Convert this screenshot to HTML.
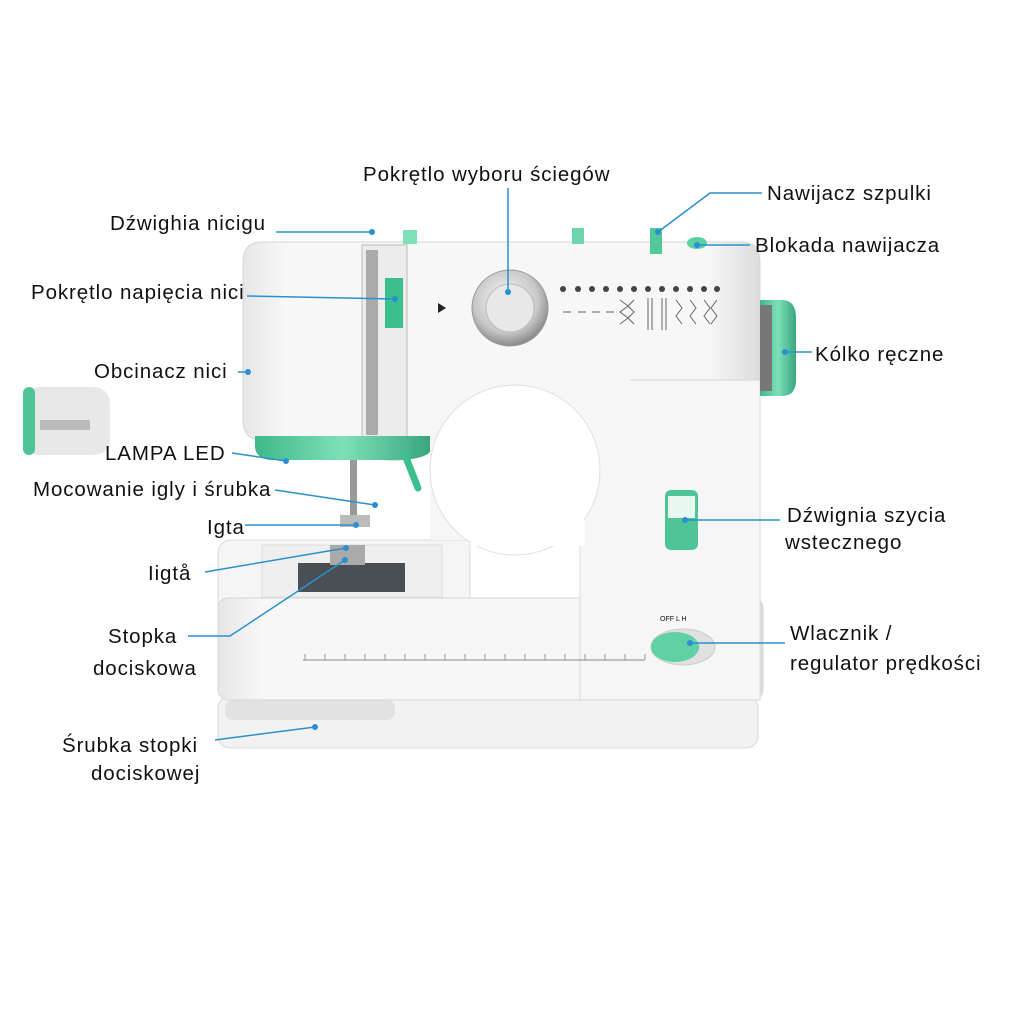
<!DOCTYPE html>
<html><head><meta charset="utf-8"><style>
html,body{margin:0;padding:0;background:#fff;}
svg{display:block}
text{font-family:"Liberation Sans",sans-serif;font-size:20.5px;letter-spacing:0.9px;fill:#111;}
</style></head><body>
<svg width="1024" height="1024" viewBox="0 0 1024 1024" xmlns="http://www.w3.org/2000/svg">
<defs>
<linearGradient id="body" x1="0" y1="0" x2="1" y2="0">
<stop offset="0" stop-color="#e6e6e6"/><stop offset="0.08" stop-color="#f7f7f7"/><stop offset="0.9" stop-color="#f7f7f7"/><stop offset="1" stop-color="#dcdcdc"/></linearGradient>
<radialGradient id="dial" cx="0.45" cy="0.4" r="0.6"><stop offset="0" stop-color="#fafafa"/><stop offset="0.7" stop-color="#c8c8c8"/><stop offset="1" stop-color="#8a8a8a"/></radialGradient>
<linearGradient id="green" x1="0" y1="0" x2="1" y2="0"><stop offset="0" stop-color="#3fb88a"/><stop offset="0.5" stop-color="#7de0b8"/><stop offset="1" stop-color="#3aa67e"/></linearGradient>
</defs>
<!-- bottom plate -->
<rect x="218" y="696" width="540" height="52" rx="12" fill="#f2f2f2" stroke="#d8d8d8"/>
<rect x="225" y="700" width="170" height="20" rx="8" fill="#e2e2e2"/>
<!-- base -->
<path d="M232 540 H470 V700 H232 Q218 700 218 686 V556 Q218 540 232 540Z" fill="#f5f5f5" stroke="#dadada"/>
<rect x="218" y="598" width="545" height="102" rx="10" fill="url(#body)" stroke="#d6d6d6"/>
<!-- right column -->
<rect x="580" y="350" width="180" height="350" fill="#f6f6f6" stroke="#dadada"/>
<!-- arm -->
<path d="M262 242 H742 Q760 242 760 262 V380 H440 V440 H262 Q243 440 243 420 V262 Q243 242 262 242Z" fill="url(#body)" stroke="#d6d6d6"/>
<rect x="430" y="370" width="200" height="170" fill="#f6f6f6"/>
<!-- opening -->
<rect x="470" y="470" width="115" height="75" fill="#fff"/>
<circle cx="515" cy="470" r="85" fill="#ffffff" stroke="#e0e0e0"/>
<rect x="471" y="470" width="113" height="76" fill="#fff"/>
<!-- needle bed -->
<rect x="262" y="545" width="180" height="52" fill="#efefef" stroke="#ddd"/>
<rect x="298" y="563" width="107" height="29" fill="#4a4f55"/>
<!-- head front panel -->
<rect x="362" y="245" width="45" height="195" fill="#ececec" stroke="#bbb"/>
<rect x="366" y="250" width="12" height="185" fill="#aaa"/>
<rect x="385" y="278" width="18" height="50" fill="#3cbf8c"/>
<!-- lamp band -->
<path d="M255 436 H430 V452 Q420 462 380 460 H270 Q255 458 255 446Z" fill="url(#green)"/>
<!-- needle bar -->
<rect x="350" y="460" width="7" height="65" fill="#999"/>
<rect x="340" y="515" width="30" height="12" fill="#bbb"/>
<rect x="330" y="545" width="35" height="20" fill="#aaa"/>
<path d="M405 455 L418 488" stroke="#3cbf8c" stroke-width="7" stroke-linecap="round"/>
<!-- top parts -->
<rect x="403" y="230" width="14" height="14" fill="#7de0b8"/>
<rect x="650" y="228" width="12" height="26" fill="#4fc99a"/>
<ellipse cx="697" cy="243" rx="10" ry="6" fill="#5bd0a0"/>
<rect x="572" y="228" width="12" height="16" fill="#6ed5ac"/>
<!-- dial -->
<circle cx="510" cy="308" r="38" fill="url(#dial)" stroke="#999"/>
<circle cx="510" cy="308" r="24" fill="#e8e8e8" stroke="#bbb"/>
<polygon points="438,303 438,313 446,308" fill="#222"/>
<!-- stitch symbols -->
<g fill="#444">
<circle cx="563" cy="289" r="3"/><circle cx="578" cy="289" r="3"/><circle cx="592" cy="289" r="3"/><circle cx="606" cy="289" r="3"/><circle cx="620" cy="289" r="3"/><circle cx="634" cy="289" r="3"/><circle cx="648" cy="289" r="3"/><circle cx="662" cy="289" r="3"/><circle cx="676" cy="289" r="3"/><circle cx="690" cy="289" r="3"/><circle cx="704" cy="289" r="3"/><circle cx="717" cy="289" r="3"/>
</g>
<g stroke="#666" fill="none" stroke-width="1">
<path d="M620 300 l8 6 -8 6 8 6 -8 6"/><path d="M634 300 l-6 6 6 6 -6 6 6 6"/><path d="M648 298 v32 M652 298 v32"/><path d="M662 298 v32 M666 298 v32"/><path d="M676 300 l6 8 -6 8 6 8"/><path d="M690 300 l6 8 -6 8 6 8"/><path d="M704 300 l6 8 -6 8 6 8"/><path d="M717 300 l-6 8 6 8 -6 8"/>
<path d="M563 312 h8 M578 312 h8 M592 312 h8 M606 312 h8"/>
</g>
<!-- handwheel -->
<path d="M760 300 H782 Q796 300 796 318 V380 Q796 396 782 396 H760Z" fill="url(#green)"/>
<rect x="760" y="305" width="12" height="86" fill="#777"/>
<!-- reverse lever -->
<rect x="665" y="490" width="33" height="60" rx="6" fill="#4ec497"/>
<rect x="668" y="496" width="27" height="22" fill="#e9f7f1"/>
<!-- power switch -->
<ellipse cx="683" cy="647" rx="32" ry="18" fill="#e0e0e0" stroke="#ccc"/>
<ellipse cx="675" cy="647" rx="24" ry="15" fill="#5fd1a4"/>
<text x="660" y="621" style="font-size:7px;letter-spacing:0">OFF   L   H</text>
<!-- ruler -->
<line x1="303" y1="660" x2="645" y2="660" stroke="#888"/>
<g stroke="#999"><path d="M305 654 v6 M325 654 v6 M345 654 v6 M365 654 v6 M385 654 v6 M405 654 v6 M425 654 v6 M445 654 v6 M465 654 v6 M485 654 v6 M505 654 v6 M525 654 v6 M545 654 v6 M565 654 v6 M585 654 v6 M605 654 v6 M625 654 v6 M645 654 v6"/></g>
<!-- inset -->
<rect x="23" y="387" width="87" height="68" rx="16" fill="#e8e8e8"/>
<rect x="23" y="387" width="12" height="68" rx="6" fill="#4ec497"/>
<rect x="40" y="420" width="50" height="10" fill="#bbb"/>
<!-- connectors -->
<g stroke="#2a8fd0" stroke-width="1.5" fill="none">
<path d="M508 188 V292"/>
<path d="M762 193 H710 L658 232"/>
<path d="M750 245 H697"/>
<path d="M276 232 H372"/>
<path d="M247 296 L395 299"/>
<path d="M238 372 H248"/>
<path d="M232 453 L286 461"/>
<path d="M275 490 L375 505"/>
<path d="M245 525 H356"/>
<path d="M205 572 L346 548"/>
<path d="M188 636 H230 L345 560"/>
<path d="M215 740 L315 727"/>
<path d="M785 352 H812"/>
<path d="M685 520 H780"/>
<path d="M690 643 H785"/>
</g>
<g fill="#2a8fd0"><circle cx="508" cy="292" r="3"/><circle cx="658" cy="232" r="3"/><circle cx="697" cy="245" r="3"/><circle cx="372" cy="232" r="3"/><circle cx="395" cy="299" r="3"/><circle cx="248" cy="372" r="3"/><circle cx="286" cy="461" r="3"/><circle cx="375" cy="505" r="3"/><circle cx="356" cy="525" r="3"/><circle cx="346" cy="548" r="3"/><circle cx="345" cy="560" r="3"/><circle cx="315" cy="727" r="3"/><circle cx="785" cy="352" r="3"/><circle cx="685" cy="520" r="3"/><circle cx="690" cy="643" r="3"/></g>
<!-- labels -->
<text x="363" y="181">Pokrętlo wyboru ściegów</text>
<text x="767" y="200">Nawijacz szpulki</text>
<text x="755" y="252">Blokada nawijacza</text>
<text x="110" y="230">Dźwighia nicigu</text>
<text x="31" y="299">Pokrętlo napięcia nici</text>
<text x="94" y="378">Obcinacz nici</text>
<text x="105" y="460">LAMPA LED</text>
<text x="33" y="496">Mocowanie igly i śrubka</text>
<text x="207" y="534">Igta</text>
<text x="148" y="580">Iigtå</text>
<text x="108" y="643">Stopka</text>
<text x="93" y="675">dociskowa</text>
<text x="62" y="752">Śrubka stopki</text>
<text x="91" y="780">dociskowej</text>
<text x="815" y="361">Kólko ręczne</text>
<text x="787" y="522">Dźwignia szycia</text>
<text x="785" y="549">wstecznego</text>
<text x="790" y="640">Wlacznik /</text>
<text x="790" y="670">regulator prędkości</text>
</svg>
</body></html>
